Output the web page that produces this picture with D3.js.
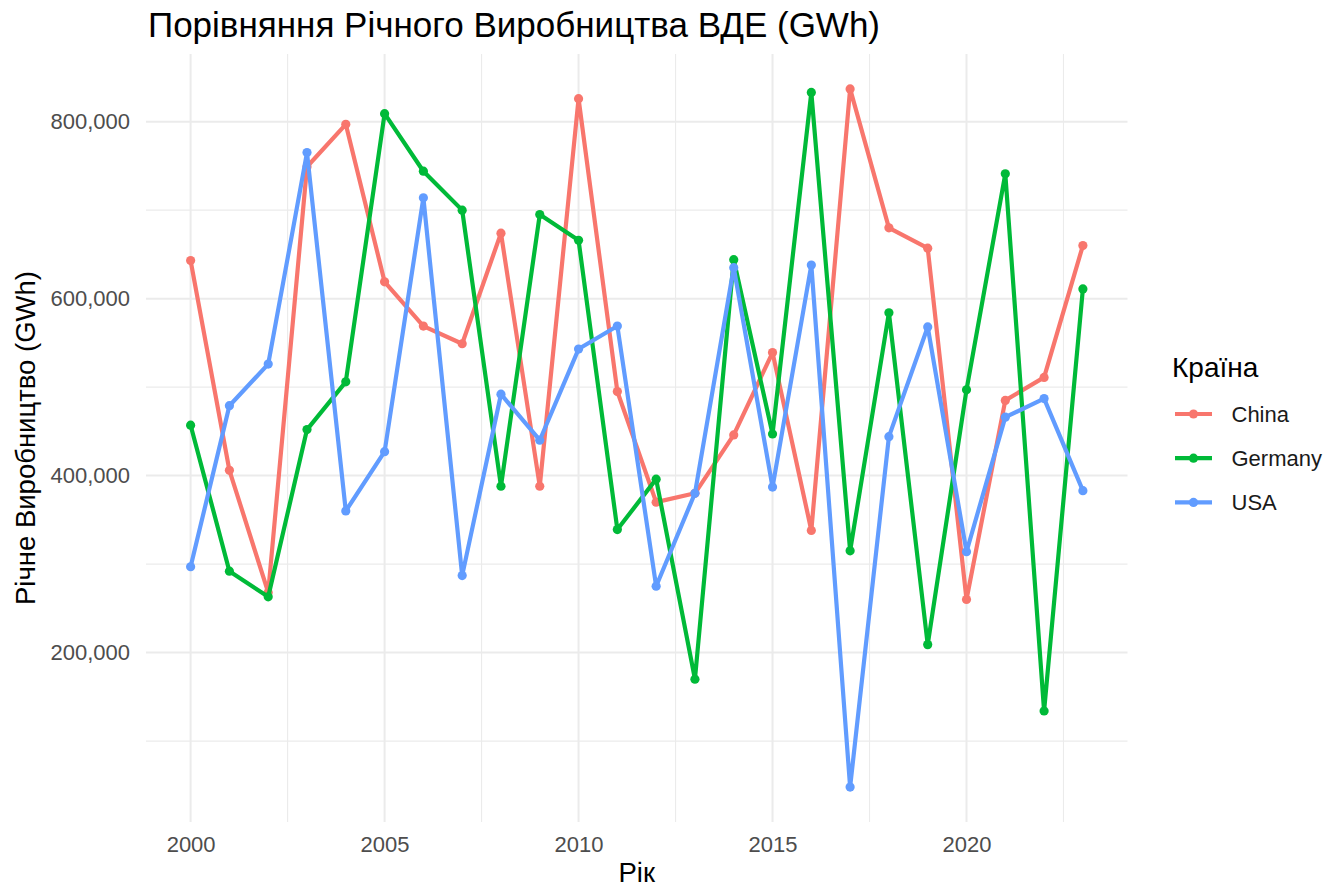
<!DOCTYPE html>
<html>
<head>
<meta charset="utf-8">
<script src="https://cdn.jsdelivr.net/npm/d3@7"></script>
<style>
  html, body { margin: 0; padding: 0; background: #fff; }
  svg { display: block; font-family: "Liberation Sans", Arial, sans-serif; }
</style>
</head>
<body>
<svg id="chart" width="1343" height="888"></svg>
<script>
// ---- Data ----
const years = [2000,2001,2002,2003,2004,2005,2006,2007,2008,2009,2010,2011,2012,2013,2014,2015,2016,2017,2018,2019,2020,2021,2022,2023];
const countries = ["China", "Germany", "USA"];
const chinaValues = [643000,406000,268000,749000,797000,619000,569000,549000,674000,388000,826000,495000,370000,380000,446000,539000,338000,837000,680000,657000,260000,485000,511000,660000];
const germanyValues = [457000,292000,263000,452000,506000,809000,744000,700000,388000,695000,666000,339000,396000,170000,644000,447000,833000,315000,584000,209000,497000,741000,134000,611000];
const usaValues = [297000,479000,526000,765000,360000,427000,714000,287000,492000,440000,543000,569000,275000,380000,635000,387000,638000,48000,444000,568000,314000,466000,487000,383000];
const yTicks = [200000, 400000, 600000, 800000];
const yMinor = [100000, 300000, 500000, 700000];
const xTicks = [2000, 2005, 2010, 2015, 2020];
const xMinor = [2002.5, 2007.5, 2012.5, 2017.5, 2022.5];
const colors = ["#F8766D", "#00BA38", "#619CFF"];
const titleText = "Порівняння Річного Виробництва ВДЕ (GWh)";
const xTitle = "Рік";
const yTitle = "Річне Виробництво (GWh)";
const legendTitle = "Країна";

const seriesValues = [chinaValues, germanyValues, usaValues];
const series = countries.map((c, i) => ({
  name: c, color: colors[i],
  points: years.map((y, j) => ({ year: y, value: seriesValues[i][j] }))
}));

// ---- Layout ----
const svg = d3.select("#chart");
const panel = { left: 146, right: 1127.5, top: 54, bottom: 822 };

const xExt = d3.extent(years);
const xPad = (xExt[1] - xExt[0]) * 0.05;
const x = d3.scaleLinear().domain([xExt[0] - xPad, xExt[1] + xPad]).range([panel.left, panel.right]);

const allVals = seriesValues.flat();
const yExt = d3.extent(allVals);
const yPad = (yExt[1] - yExt[0]) * 0.05;
const y = d3.scaleLinear().domain([yExt[0] - yPad, yExt[1] + yPad]).range([panel.bottom, panel.top]);

const grid = svg.append("g");
grid.selectAll(".ymin").data(yMinor).join("line")
  .attr("x1", panel.left).attr("x2", panel.right)
  .attr("y1", d => y(d)).attr("y2", d => y(d))
  .attr("stroke", "#EBEBEB").attr("stroke-width", 1.1);
grid.selectAll(".xmin").data(xMinor).join("line")
  .attr("y1", panel.top).attr("y2", panel.bottom)
  .attr("x1", d => x(d)).attr("x2", d => x(d))
  .attr("stroke", "#EBEBEB").attr("stroke-width", 1.1);
grid.selectAll(".ymaj").data(yTicks).join("line")
  .attr("x1", panel.left).attr("x2", panel.right)
  .attr("y1", d => y(d)).attr("y2", d => y(d))
  .attr("stroke", "#EBEBEB").attr("stroke-width", 2);
grid.selectAll(".xmaj").data(xTicks).join("line")
  .attr("y1", panel.top).attr("y2", panel.bottom)
  .attr("x1", d => x(d)).attr("x2", d => x(d))
  .attr("stroke", "#EBEBEB").attr("stroke-width", 2);

const fmt = d3.format(",");
const yAxis = d3.axisLeft(y).tickValues(yTicks).tickFormat(fmt).tickSize(0).tickPadding(16);
const gy = svg.append("g").attr("transform", `translate(${panel.left},0)`).call(yAxis);
gy.select(".domain").remove();
gy.selectAll("text").attr("font-size", 22).attr("fill", "#4D4D4D").attr("font-family", "Liberation Sans, Arial, sans-serif");

const xAxis = d3.axisBottom(x).tickValues(xTicks).tickFormat(d3.format("d")).tickSize(0).tickPadding(14);
const gx = svg.append("g").attr("transform", `translate(0,${panel.bottom})`).call(xAxis);
gx.select(".domain").remove();
gx.selectAll("text").attr("font-size", 22).attr("fill", "#4D4D4D").attr("font-family", "Liberation Sans, Arial, sans-serif");

const line = d3.line().x(d => x(d.year)).y(d => y(d.value));
const gs = svg.append("g");
series.forEach(s => {
  gs.append("path").datum(s.points).attr("d", line)
    .attr("fill", "none").attr("stroke", s.color).attr("stroke-width", 4.2)
    .attr("stroke-linejoin", "round");
  gs.selectAll(null).data(s.points).join("circle")
    .attr("cx", d => x(d.year)).attr("cy", d => y(d.value)).attr("r", 4.6)
    .attr("fill", s.color);
});

svg.append("text").attr("x", 148).attr("y", 37).attr("font-size", 35).attr("fill", "#000").text(titleText);
svg.append("text").attr("x", (panel.left + panel.right) / 2).attr("y", 882).attr("text-anchor", "middle")
  .attr("font-size", 27.5).attr("fill", "#000").text(xTitle);
svg.append("text").attr("transform", `translate(35,${(panel.top + panel.bottom) / 2}) rotate(-90)`)
  .attr("text-anchor", "middle").attr("font-size", 27.5).attr("fill", "#000").text(yTitle);

const lg = svg.append("g");
lg.append("text").attr("x", 1172).attr("y", 377).attr("font-size", 28).attr("fill", "#000").text(legendTitle);
series.forEach((s, i) => {
  const cy = 414 + i * 44.2;
  lg.append("line").attr("x1", 1175).attr("x2", 1212).attr("y1", cy).attr("y2", cy)
    .attr("stroke", s.color).attr("stroke-width", 4.2);
  lg.append("circle").attr("cx", 1193.5).attr("cy", cy).attr("r", 4.6).attr("fill", s.color);
  lg.append("text").attr("x", 1231.5).attr("y", cy + 8).attr("font-size", 22).attr("fill", "#1A1A1A").text(s.name);
});
</script>
</body>
</html>
